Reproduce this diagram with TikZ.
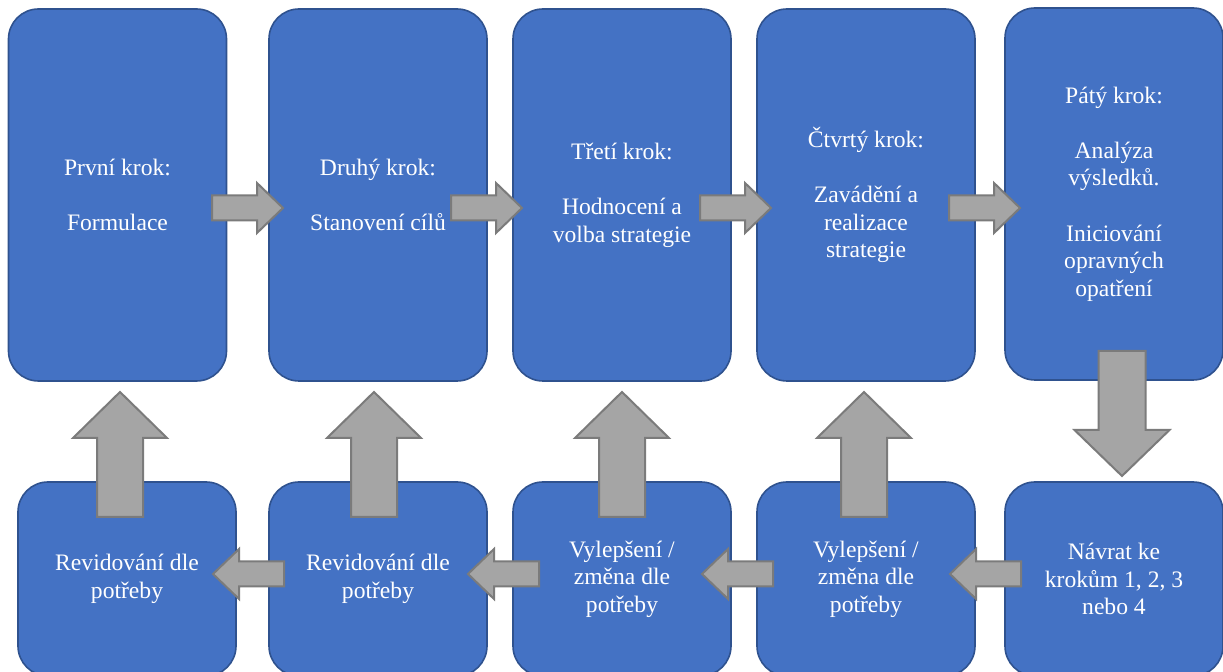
\documentclass[tikz,border=0pt]{standalone}
\usepackage{fontspec}
\setmainfont{Liberation Serif}
\definecolor{modra}{HTML}{4472C4}
\definecolor{modraokraj}{HTML}{2F528F}
\definecolor{seda}{HTML}{A5A5A5}
\definecolor{sedaokraj}{HTML}{7B7B7B}
\tikzset{
  krok/.style={draw=modraokraj, line width=0.8pt, fill=modra, rounded corners=15pt,
    text=white, align=center, inner sep=0pt, minimum width=109pt, minimum height=186pt,
    font=\fontsize{11.8}{13.8}\selectfont},
  navrat/.style={krok, minimum height=97pt},
  sipka/.style={draw=sedaokraj, fill=seda, line width=1pt, line join=miter},
  pics/blok/.style args={#1/#2/#3/#4}{code={
    \draw[sipka] ({-#1/2},{-#2/2}) -- ({#1/2-#4},{-#2/2}) -- ({#1/2-#4},{-#3/2})
      -- ({#1/2},0) -- ({#1/2-#4},{#3/2}) -- ({#1/2-#4},{#2/2}) -- ({-#1/2},{#2/2}) -- cycle;
  }}
}
\begin{document}
\begin{tikzpicture}[x=0.5pt,y=-0.5pt]
\def\mezera{13.8pt}

% cadre de l'image
\useasboundingbox (0,0) rectangle (1223,672);
\clip (0,0) rectangle (1223,672);

% cases du haut
\node[krok] (k1) at (117.5,195) {První krok:\\[\mezera]Formulace};
\node[krok] (k2) at (378,195) {Druhý krok:\\[\mezera]Stanovení cílů};
\node[krok] (k3) at (622,195) {Třetí krok:\\[\mezera]Hodnocení a\\volba strategie};
\node[krok] (k4) at (866,195) {Čtvrtý krok:\\[\mezera]Zavádění a\\realizace\\strategie};
\node[krok] (k5) at (1114,194) {Pátý krok:\\[\mezera]Analýza\\výsledků.\\[\mezera]Iniciování\\opravných\\opatření};

% cases du bas
\node[navrat] (r1) at (127,579) {Revidování dle\\potřeby};
\node[navrat] (r2) at (378,579) {Revidování dle\\potřeby};
\node[navrat] (r3) at (622,579) {Vylepšení /\\změna dle\\potřeby};
\node[navrat] (r4) at (866,579) {Vylepšení /\\změna dle\\potřeby};
\node[navrat] (r5) at (1114,579) {Návrat ke\\krokům 1, 2, 3\\nebo 4};

% flèches vers la droite
\foreach \x in {247.5,486.5,735.5,984.5}
  \pic at (\x,208) {blok=71/25/50/26};

% flèche vers le bas
\pic[rotate=-90] at (1122,413.5) {blok=125/47/95/46};

% flèches vers le haut
\foreach \x in {120,374,622,864}
  \pic[rotate=90] at (\x,454.5) {blok=125/46/94/46};

% flèches vers la gauche
\foreach \x in {248.5,503.5,737.5,985.5}
  \pic[rotate=180] at (\x,574) {blok=71/25/50/26};
\end{tikzpicture}
\end{document}
